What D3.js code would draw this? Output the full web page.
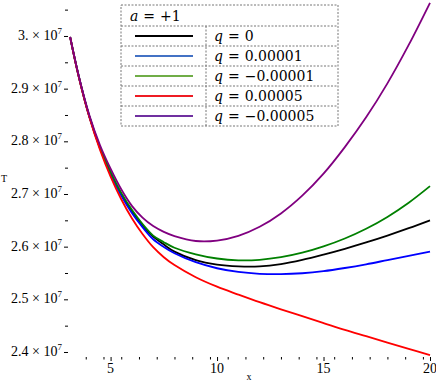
<!DOCTYPE html>
<html>
<head>
<meta charset="utf-8">
<script src="https://cdn.jsdelivr.net/npm/d3@7"></script>
<style>
  body { margin: 0; background: #fff; }
  svg { display: block; }
</style>
</head>
<body>
<svg id="chart" width="436" height="382"></svg>
<script>
// x samples and T values (units of 1e7)
var xs = [3.1, 3.5, 4, 4.5, 5, 5.5, 6, 6.5, 7, 7.5, 8, 9, 10, 11, 12, 13, 14, 15, 16, 17, 18, 19, 20];
var tBlack = [2.998, 2.924, 2.847, 2.788, 2.740, 2.700, 2.667, 2.640, 2.619, 2.604, 2.5905, 2.5745, 2.566, 2.5625, 2.5625, 2.567, 2.575, 2.585, 2.596, 2.608, 2.621, 2.635, 2.650];
var tBlue = [2.998, 2.924, 2.847, 2.787, 2.738, 2.697, 2.664, 2.637, 2.614, 2.5995, 2.5875, 2.5705, 2.559, 2.552, 2.5485, 2.5478, 2.5495, 2.5535, 2.5595, 2.5665, 2.5745, 2.5825, 2.5905];
var tGreen = [2.998, 2.924, 2.848, 2.789, 2.742, 2.702, 2.670, 2.643, 2.621, 2.6085, 2.598, 2.5855, 2.5775, 2.574, 2.575, 2.580, 2.5885, 2.6005, 2.6155, 2.634, 2.6565, 2.6835, 2.715];
var tRed = [2.998, 2.923, 2.846, 2.784, 2.733, 2.690, 2.654, 2.624, 2.599, 2.580, 2.565, 2.542, 2.524, 2.509, 2.4945, 2.481, 2.468, 2.455, 2.442, 2.430, 2.418, 2.406, 2.394];
var tPurple = [2.998, 2.925, 2.850, 2.793, 2.748, 2.709, 2.6775, 2.655, 2.639, 2.628, 2.620, 2.6107, 2.6115, 2.6205, 2.6377, 2.6631, 2.6968, 2.7386, 2.789, 2.8455, 2.910, 2.983, 3.063];

var qValues = ["0", "0.00001", "\u22120.00001", "0.00005", "\u22120.00005"];
var plotColors = ["#000000", "#0000ff", "#008000", "#ff0000", "#800080"];
var legendColors = ["#000000", "#4472c4", "#70ad47", "#ee1c24", "#7030a0"];
var yMajor = [2.4, 2.5, 2.6, 2.7, 2.8, 2.9, 3.0];
var yLabels = ["2.4", "2.5", "2.6", "2.7", "2.8", "2.9", "3."];
var xMajor = [5, 10, 15, 20];

var series = [tBlack, tBlue, tGreen, tRed, tPurple];

var svg = d3.select("#chart");
var x = d3.scaleLinear().domain([3, 20]).range([68, 430]);
var y = d3.scaleLinear().domain([2.3905, 3.0645]).range([357, 2]);

var serif = "Liberation Serif";
var dserif = "DejaVu Serif";

// minor ticks
var yMinor = d3.range(2.45, 3.06, 0.1);
var xMinor = d3.range(3, 20.01, 5 / 6).filter(v => xMajor.every(m => Math.abs(m - v) > 0.01) && v > 3.01);

// ---- y axis
var gy = svg.append("g").attr("transform", "translate(68,0)");
gy.call(d3.axisLeft(y).tickValues(yMajor).tickSize(4).tickFormat(""));
gy.append("g").call(d3.axisLeft(y).tickValues(yMinor).tickSize(3).tickFormat(""));
gy.selectAll(".domain").attr("stroke", "#000").attr("stroke-width", 1.3);
gy.selectAll("g .domain").remove();
gy.selectAll(".tick line").attr("stroke", "#000");

var yl = svg.append("g").selectAll("text").data(yMajor).join("text")
  .attr("x", 62).attr("y", d => y(d) + 4)
  .attr("text-anchor", "end")
  .attr("font-family", serif).attr("font-size", 14).attr("fill", "#000");
yl.append("tspan").text((d, i) => yLabels[i] + " \u00d7 10");
yl.append("tspan").attr("dy", -6).attr("font-size", 9).text("7");

// ---- x axis
var gx = svg.append("g").attr("transform", "translate(0,357)");
gx.call(d3.axisBottom(x).tickValues(xMajor).tickSize(4).tickFormat(""));
gx.append("g").call(d3.axisBottom(x).tickValues(xMinor).tickSize(2.5).tickFormat(""));
gx.selectAll(".domain").attr("stroke", "#000").attr("stroke-width", 1.5);
gx.selectAll("g .domain").remove();
gx.selectAll(".tick line").attr("stroke", "#000");

svg.append("g").selectAll("text").data(xMajor).join("text")
  .attr("x", d => x(d)).attr("y", 373)
  .attr("text-anchor", "middle")
  .attr("font-family", serif).attr("font-size", 14)
  .text(d => d);

svg.append("text").attr("x", 249).attr("y", 380).attr("text-anchor", "middle")
  .attr("font-family", serif).attr("font-size", 10).text("x");
svg.append("text").attr("x", 1).attr("y", 182)
  .attr("font-family", serif).attr("font-size", 10).text("T");

// ---- curves
var line = d3.line()
  .x((d, i) => x(xs[i]))
  .y(d => y(d))
  .curve(d3.curveCatmullRom.alpha(0.5));

svg.append("g").selectAll("path").data(series).join("path")
  .attr("d", d => line(d))
  .attr("fill", "none")
  .attr("stroke", (d, i) => plotColors[i])
  .attr("stroke-width", 1.8);

// ---- legend (table-like box)
var lg = svg.append("g");
var L = { x0: 121, x1: 338, y0: 5, top: 26, row: 20, div: 206 };
var dashStyle = sel => sel.attr("stroke", "#777").attr("stroke-width", 1).attr("stroke-dasharray", "2,1.5");

lg.append("rect").attr("x", L.x0).attr("y", L.y0).attr("width", L.x1 - L.x0).attr("height", L.top + 5 * L.row - L.y0)
  .attr("fill", "#fff").call(dashStyle);
lg.selectAll(".sep").data(d3.range(5)).join("line").attr("class", "sep")
  .attr("x1", L.x0).attr("x2", L.x1)
  .attr("y1", d => L.top + d * L.row).attr("y2", d => L.top + d * L.row)
  .call(dashStyle);
lg.append("line").attr("x1", L.div).attr("x2", L.div).attr("y1", L.top).attr("y2", L.top + 5 * L.row).call(dashStyle);

var title = lg.append("text").attr("x", 130).attr("y", 21)
  .attr("font-family", dserif).attr("font-size", 14);
title.append("tspan").attr("font-style", "italic").text("a");
title.append("tspan").attr("dx", 5).text("=");
title.append("tspan").attr("dx", 5).text("+1");

lg.selectAll(".sw").data(legendColors).join("line").attr("class", "sw")
  .attr("x1", 135).attr("x2", 193)
  .attr("y1", (d, i) => L.top + i * L.row + 10).attr("y2", (d, i) => L.top + i * L.row + 10)
  .attr("stroke", d => d).attr("stroke-width", 2.2);

var lt = lg.selectAll(".lt").data(qValues).join("text").attr("class", "lt")
  .attr("x", 214).attr("y", (d, i) => L.top + i * L.row + 15)
  .attr("font-family", dserif).attr("font-size", 14);
lt.append("tspan").attr("font-style", "italic").text("q");
lt.append("tspan").attr("dx", 5).text("=");
lt.append("tspan").attr("dx", 5).text(d => d);
</script>
</body>
</html>
